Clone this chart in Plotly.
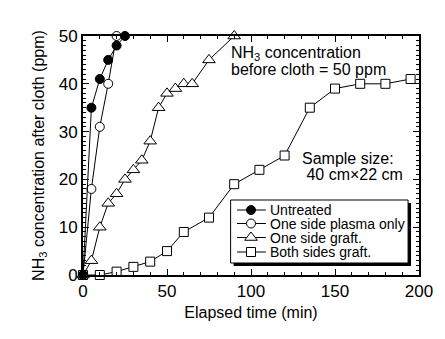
import plotly.graph_objects as go

# Data
untreated_x = [0, 5, 10, 15, 20, 25]
untreated_y = [0, 35, 41, 45, 48, 50]

plasma_x = [0, 5, 10, 15, 20]
plasma_y = [0, 18, 31, 40, 50]

one_graft_x = [0, 5, 10, 15, 20, 25, 30, 35, 40, 45, 50, 55, 60, 65, 75, 90]
one_graft_y = [0, 3, 10, 15, 17, 20, 22, 24, 28, 35, 38, 39, 40, 40, 45, 50]

both_graft_x = [0, 10, 20, 30, 40, 50, 60, 75, 90, 105, 120, 135, 150, 165, 180, 195]
both_graft_y = [0, 0, 0.7, 1.7, 2.8, 5, 9, 12, 19, 22, 25, 35, 39, 40, 40, 41]

legend_names = ["Untreated", "One side plasma only", "One side graft.", "Both sides graft."]

series = [
    (both_graft_x, both_graft_y, "square", "white", 9),
    (one_graft_x, one_graft_y, "triangle-up", "white", 11),
    (plasma_x, plasma_y, "circle", "white", 9),
    (untreated_x, untreated_y, "circle", "black", 9),
]
legend_styles = [
    ("circle", "black", 9),
    ("circle", "white", 9),
    ("triangle-up", "white", 11),
    ("square", "white", 9),
]

FONT = "Arial, Liberation Sans, sans-serif"
fig = go.Figure()
for xs, ys, sym, fill, sz in series:
    fig.add_trace(go.Scatter(
        x=xs, y=ys, mode="lines+markers", showlegend=False,
        line=dict(color="black", width=1),
        marker=dict(symbol=sym, size=sz, color=fill, line=dict(color="black", width=1)),
        cliponaxis=False,
    ))

# Hand-made legend on a pixel-unit overlay axis (page pixel coordinates)
LEG_X0, LEG_X1, LEG_Y0, LEG_Y1 = 231.5, 410, 200, 263
ROWS = [210, 223.5, 237.5, 252]
for (sym, fill, sz), row, name in zip(legend_styles, ROWS, legend_names):
    fig.add_trace(go.Scatter(
        x=[238, 252, 267], y=[row, row, row], xaxis="x2", yaxis="y2",
        mode="lines+markers", showlegend=False, hoverinfo="skip",
        line=dict(color="black", width=1),
        marker=dict(symbol=sym, size=sz, color=fill, opacity=[0, 1, 0],
                    line=dict(color="black", width=1)),
        cliponaxis=False,
    ))
    fig.add_annotation(x=269, y=row, xref="x2", yref="y2", xanchor="left", yanchor="middle",
                       text=name, showarrow=False,
                       font=dict(family=FONT, size=14, color="black"))

# legend box with shadow
fig.add_shape(type="rect", xref="x2", yref="y2", x0=LEG_X0 + 3, x1=LEG_X1 + 3, y0=LEG_Y0 + 3, y1=LEG_Y1 + 3,
              fillcolor="black", line=dict(width=0), layer="below")
fig.add_shape(type="rect", xref="x2", yref="y2", x0=LEG_X0, x1=LEG_X1, y0=LEG_Y0, y1=LEG_Y1,
              fillcolor="white", line=dict(color="black", width=1), layer="below")

axis_common = dict(
    showline=True, linecolor="black", linewidth=2, mirror="allticks",
    ticks="inside", ticklen=6, tickwidth=1, tickcolor="black",
    showgrid=False, zeroline=False,
    tickfont=dict(family=FONT, size=17, color="black"),
)
fig.update_xaxes(selector=dict(anchor="y"))
fig.update_layout(
    xaxis=dict(range=[0, 200], dtick=50,
               minor=dict(dtick=10, ticks="inside", ticklen=3, tickcolor="black"),
               title=dict(text="Elapsed time (min)", font=dict(family=FONT, size=16, color="black"), standoff=6),
               **axis_common),
    yaxis=dict(range=[0, 50], dtick=10,
               minor=dict(dtick=1, ticks="inside", ticklen=3, tickcolor="black"),
               title=dict(text="NH<sub>3</sub> concentration after cloth (ppm)",
                          font=dict(family=FONT, size=16, color="black"), standoff=10),
               **axis_common),
    xaxis2=dict(range=[83, 421], overlaying="x", anchor="y2", visible=False, fixedrange=True),
    yaxis2=dict(range=[275, 36], overlaying="y", anchor="x2", visible=False, fixedrange=True),
)

# text annotations (page pixel coordinates)
for txt, xx, yy in [
    ("NH<sub>3</sub> concentration", 230, 53),
    ("before cloth = 50 ppm", 230, 69),
    ("Sample size:", 301, 158),
    (" 40 cm\u00d722 cm", 301, 174),
]:
    fig.add_annotation(x=xx, y=yy, xref="x2", yref="y2", xanchor="left", yanchor="middle",
                       text=txt, showarrow=False,
                       font=dict(family=FONT, size=16, color="black"))

fig.update_layout(
    width=445, height=339,
    margin=dict(l=83, r=24, t=36, b=64),
    paper_bgcolor="white", plot_bgcolor="white",
    showlegend=False,
)
fig.write_html("out.html")
